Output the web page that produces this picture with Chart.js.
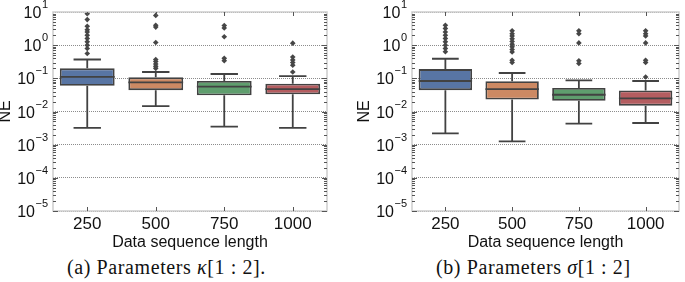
<!DOCTYPE html>
<html>
<head>
<meta charset="utf-8">
<script src="https://cdn.jsdelivr.net/npm/chart.js@4"></script>
<style>
  body { margin: 0; background: #fff; width: 685px; height: 282px; position: relative; overflow: hidden; }
  canvas { position: absolute; top: 0; }
  .caption { position: absolute; top: 256px; font-family: 'Liberation Serif', serif; font-size: 20px; line-height: 22px; letter-spacing: 0.6px; color: #111; white-space: nowrap; }
</style>
</head>
<body>
<canvas id="chartA" width="340" height="252" style="left:0"></canvas>
<canvas id="chartB" width="340" height="252" style="left:345px"></canvas>
<div class="caption" style="left:67px">(a) Parameters <i>κ</i>[1 : 2].</div>
<div class="caption" style="left:436px">(b) Parameters <i>σ</i>[1 : 2]</div>
<script>
// categories on the x axis
const categories = ['250', '500', '750', '1000'];
const decades = [1e-5, 1e-4, 1e-3, 1e-2, 1e-1, 1, 10];

// (a) kappa[1:2] box statistics
const kappaLow  = [0.0032, 0.0145, 0.0035, 0.0032];
const kappaQ1   = [0.060, 0.044, 0.031, 0.033];
const kappaMed  = [0.11, 0.076, 0.056, 0.047];
const kappaQ3   = [0.20, 0.107, 0.083, 0.069];
const kappaHigh = [0.37, 0.155, 0.135, 0.117];
const kappaOutliers = [
  [0.56, 0.79, 1.0, 1.26, 1.6, 2.0, 2.5, 2.9, 3.7, 5.9, 8.9],
  [0.20, 0.23, 0.27, 0.32, 0.37, 1.2, 3.5, 4.0, 7.9],
  [0.34, 0.40, 1.8, 3.3, 3.9],
  [0.155, 0.25, 0.30, 0.36, 0.44, 1.15]
];

// (b) sigma[1:2] box statistics
const sigmaLow  = [0.0022, 0.00126, 0.0043, 0.0045];
const sigmaQ1   = [0.044, 0.023, 0.021, 0.015];
const sigmaMed  = [0.083, 0.047, 0.032, 0.025];
const sigmaQ3   = [0.19, 0.082, 0.051, 0.043];
const sigmaHigh = [0.39, 0.145, 0.087, 0.083];
const sigmaOutliers = [
  [0.63, 0.8, 1.0, 1.26, 1.6, 2.0, 2.5, 3.2, 4.0],
  [0.30, 0.35, 0.62, 0.74, 0.89, 1.07, 1.3, 1.55, 1.9, 2.2, 2.7],
  [0.28, 0.34, 1.17, 2.2, 2.7],
  [0.11, 0.30, 0.35, 1.17, 1.9, 2.2, 2.7]
];

const boxColors = ['#5875a4', '#cc8963', '#5f9e6e', '#b45d60'];
const lineColor = '#424242';
const textColor = '#111';
const fontFamily = "'Liberation Sans', Arial, sans-serif";

// whiskers, medians, frame, ticks and the y labels
const boxPartsPlugin = {
  id: 'boxParts',
  beforeDatasetsDraw(chart) {
    const st = chart.options.plugins.boxParts;
    const { ctx, scales: { y } } = chart;
    const meta = chart.getDatasetMeta(0);
    ctx.save();
    ctx.strokeStyle = lineColor;
    ctx.lineWidth = 1.8;
    meta.data.forEach((bar, i) => {
      const cx = bar.x;
      const cap = bar.width * 0.25;
      const yLo = y.getPixelForValue(st.low[i]);
      const yHi = y.getPixelForValue(st.high[i]);
      ctx.beginPath();
      ctx.moveTo(cx, y.getPixelForValue(st.q1[i]));
      ctx.lineTo(cx, yLo);
      ctx.moveTo(cx - cap, yLo);
      ctx.lineTo(cx + cap, yLo);
      ctx.moveTo(cx, y.getPixelForValue(st.q3[i]));
      ctx.lineTo(cx, yHi);
      ctx.moveTo(cx - cap, yHi);
      ctx.lineTo(cx + cap, yHi);
      ctx.stroke();
    });
    ctx.restore();
  },
  afterDatasetsDraw(chart) {
    const st = chart.options.plugins.boxParts;
    const { ctx, scales: { y } } = chart;
    const meta = chart.getDatasetMeta(0);
    ctx.save();
    ctx.strokeStyle = lineColor;
    ctx.lineWidth = 1.8;
    meta.data.forEach((bar, i) => {
      const ym = y.getPixelForValue(st.med[i]);
      ctx.beginPath();
      ctx.moveTo(bar.x - bar.width / 2, ym);
      ctx.lineTo(bar.x + bar.width / 2, ym);
      ctx.stroke();
    });
    ctx.restore();
  },
  afterDraw(chart) {
    const { ctx, chartArea: a, scales: { x, y } } = chart;
    ctx.save();
    // frame
    ctx.strokeStyle = '#cdcdcd';
    ctx.lineWidth = 1.5;
    ctx.strokeRect(a.left, a.top, a.right - a.left, a.bottom - a.top);
    // log ticks on left and right spines
    ctx.strokeStyle = '#555';
    ctx.lineWidth = 1;
    ctx.beginPath();
    for (let k = -5; k <= 0; k++) {
      for (let m = 1; m <= 9; m++) {
        const v = m * Math.pow(10, k);
        const py = Math.round(y.getPixelForValue(v)) + 0.5;
        const len = m === 1 ? 5 : 3;
        ctx.moveTo(a.left, py); ctx.lineTo(a.left + len, py);
        ctx.moveTo(a.right - len, py); ctx.lineTo(a.right, py);
      }
    }
    // category ticks on top and bottom
    categories.forEach((c, i) => {
      const px = Math.round(x.getPixelForValue(i)) + 0.5;
      ctx.moveTo(px, a.top); ctx.lineTo(px, a.top + 4);
      ctx.moveTo(px, a.bottom); ctx.lineTo(px, a.bottom - 4);
    });
    ctx.stroke();
    // y tick labels as 10 with superscript exponent
    ctx.fillStyle = textColor;
    ctx.textAlign = 'right';
    ctx.textBaseline = 'alphabetic';
    decades.forEach(v => {
      const k = Math.round(Math.log10(v));
      const py = y.getPixelForValue(v);
      const exp = k < 0 ? '\u2212' + (-k) : String(k);
      ctx.font = '11px ' + fontFamily;
      const ew = ctx.measureText(exp).width;
      const right = a.left - 5;
      ctx.fillText(exp, right, py - 4);
      ctx.font = '16px ' + fontFamily;
      ctx.fillText('10', right - ew - 0.5, py + 6);
    });
    // y axis title
    ctx.save();
    ctx.translate(a.left - 47, (a.top + a.bottom) / 2);
    ctx.rotate(-Math.PI / 2);
    ctx.textAlign = 'center';
    ctx.textBaseline = 'middle';
    ctx.font = '16px ' + fontFamily;
    ctx.fillText('NE', 0, 0);
    ctx.restore();
    ctx.restore();
  }
};

function buildChart(canvasId, stats, outliers, yWidth, rightPad) {
  const boxes = categories.map((c, i) => [stats.q1[i], stats.q3[i]]);
  const fliers = [];
  categories.forEach((c, i) => outliers[i].forEach(v => fliers.push({ x: c, y: v })));

  return new Chart(document.getElementById(canvasId), {
    type: 'bar',
    data: {
      labels: categories,
      datasets: [{
        data: boxes,
        backgroundColor: boxColors,
        borderColor: lineColor,
        borderWidth: 1.8,
        borderSkipped: false,
        barPercentage: 0.8,
        categoryPercentage: 1.0
      }, {
        type: 'line',
        data: fliers,
        showLine: false,
        pointStyle: 'rectRot',
        pointRadius: 2.8,
        pointBackgroundColor: '#464646',
        pointBorderWidth: 0
      }]
    },
    options: {
      responsive: false,
      animation: false,
      layout: { padding: { top: 12, right: rightPad, bottom: 0, left: 0 } },
      plugins: {
        legend: { display: false },
        tooltip: { enabled: false },
        boxParts: stats
      },
      scales: {
        x: {
          type: 'category',
          offset: true,
          grid: { display: false, drawTicks: false },
          border: { display: false },
          ticks: { font: { family: fontFamily, size: 17 }, color: textColor, padding: 3 },
          title: {
            display: true,
            text: 'Data sequence length',
            font: { family: fontFamily, size: 16 },
            color: textColor,
            padding: { top: 0, bottom: 0 }
          },
          afterFit: s => { s.height = 41; }
        },
        y: {
          type: 'logarithmic',
          min: 1e-5,
          max: 10,
          afterBuildTicks: s => { s.ticks = decades.map(v => ({ value: v })); },
          ticks: { display: false },
          grid: { color: '#8c8c8c', lineWidth: 1, drawTicks: false },
          border: { display: false, dash: [1, 1] },
          afterFit: s => { s.width = yWidth; }
        }
      }
    },
    plugins: [boxPartsPlugin]
  });
}

buildChart('chartA',
  { low: kappaLow, q1: kappaQ1, med: kappaMed, q3: kappaQ3, high: kappaHigh },
  kappaOutliers, 53, 13);
buildChart('chartB',
  { low: sigmaLow, q1: sigmaQ1, med: sigmaMed, q3: sigmaQ3, high: sigmaHigh },
  sigmaOutliers, 67, 6);
</script>
</body>
</html>
